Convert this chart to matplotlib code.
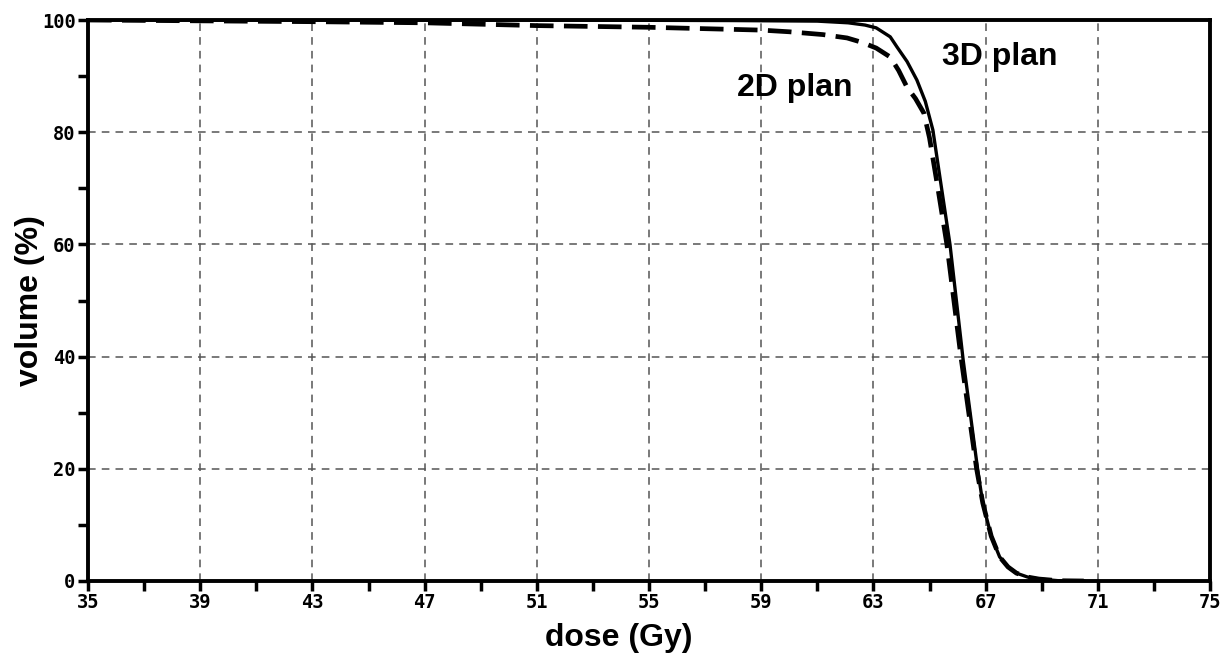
import matplotlib
matplotlib.use('Agg')
import matplotlib.pyplot as plt
import numpy as np

# dose-volume histogram, dose in Gy, volume in %
dose_3d = [35, 43, 51, 58, 61, 62.1, 62.7, 63.1, 63.6, 63.84, 64.2, 64.55, 64.85, 65.12, 65.4, 65.73, 66.2, 66.73, 66.9, 67.2, 67.5, 67.8, 68.1, 68.5, 68.9, 69.6, 70.5]
vol_3d = [100, 100, 100, 99.9, 99.8, 99.5, 99.1, 98.6, 97.0, 95.2, 92.6, 89.3, 85.5, 80.4, 71.0, 60.0, 39.4, 19.4, 13.9, 8.0, 4.3, 2.5, 1.4, 0.7, 0.35, 0.05, 0]

dose_2d = [35, 43, 47, 51, 55, 59, 60.0, 61.2, 62.06, 62.6, 63.1, 63.6, 63.9, 64.2, 64.5, 64.8, 65.0, 65.3, 65.62, 66.12, 66.68, 66.9, 67.2, 67.5, 67.8, 68.1, 68.5, 68.9, 69.6, 70.5]
vol_2d = [100, 99.7, 99.5, 99.0, 98.7, 98.2, 97.9, 97.4, 96.8, 96.0, 95.0, 93.4, 91.0, 88.0, 86.0, 83.4, 79.0, 70.0, 60.0, 40.0, 20.0, 13.9, 8.0, 4.3, 2.5, 1.4, 0.7, 0.35, 0.05, 0]

x_major = np.arange(35, 76, 4)
x_minor = np.arange(37, 76, 4)
y_major = np.arange(0, 101, 20)
y_minor = np.arange(10, 101, 20)

fig = plt.figure(figsize=(12.21, 6.56), dpi=100)
ax = fig.add_axes([88 / 1221, 75 / 656, 1122 / 1221, 561 / 656])

ax.plot(dose_3d, vol_3d, '-', color='black', lw=2.4, zorder=3)
ax.plot(dose_2d, vol_2d, '--', color='black', lw=3.4, dashes=(5, 2.2), zorder=3)

ax.set_xlim(35, 75)
ax.set_ylim(0, 100)
ax.set_xticks(x_major)
ax.set_xticks(x_minor, minor=True)
ax.set_yticks(y_major)
ax.set_yticks(y_minor, minor=True)
ax.grid(True, which='major', color='#555555', linestyle=(0, (5, 4)), lw=1.1)

tick_font = dict(family='DejaVu Sans Mono', weight='bold', size=13.5)
ax.set_xticklabels([str(v) for v in x_major], **tick_font)
ax.set_yticklabels([str(v) for v in y_major], **tick_font)
ax.tick_params(which='both', direction='out', width=2.5, color='black')
ax.tick_params(which='major', length=7, pad=2)
ax.tick_params(which='minor', length=7)

for s in ax.spines.values():
    s.set_linewidth(2.8)

lab_font = dict(family='Liberation Sans', weight='bold', size=23)
ax.set_xlabel('dose (Gy)', **lab_font)
ax.set_ylabel('volume (%)', **lab_font)
ax.xaxis.set_label_coords(0.473, -0.075)
ax.yaxis.set_label_coords(-0.038, 0.5)

txt_font = dict(family='Liberation Sans', weight='bold', size=23)
ax.text(60.2, 87.9, '2D plan', ha='center', va='center', **txt_font)
ax.text(67.5, 93.4, '3D plan', ha='center', va='center', **txt_font)

plt.savefig('out.png', dpi=100)
